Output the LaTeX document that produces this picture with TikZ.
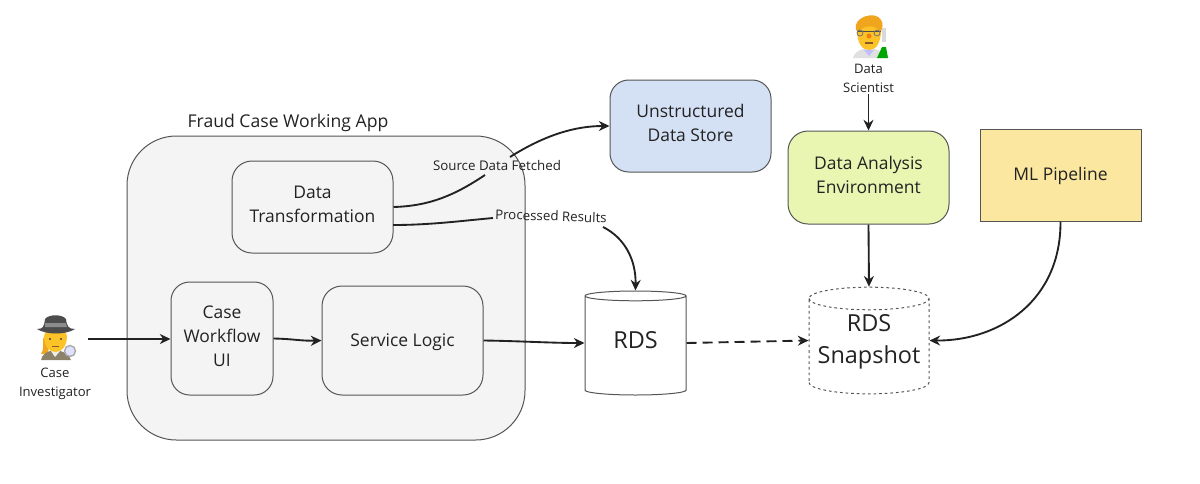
\documentclass[tikz,border=0pt]{standalone}
\usepackage{fontspec}
\setmainfont{Open Sans}
\usetikzlibrary{shapes.geometric,arrows.meta}
\definecolor{inkline}{RGB}{34,34,34}
\definecolor{boxline}{RGB}{85,85,85}
\definecolor{appfill}{RGB}{244,244,244}
\definecolor{storefill}{RGB}{212,225,245}
\definecolor{envfill}{RGB}{232,246,178}
\definecolor{mlfill}{RGB}{251,231,160}
\definecolor{skin}{RGB}{252,195,40}
\definecolor{hairgold}{RGB}{240,165,30}
\definecolor{coat}{RGB}{140,130,105}
\tikzset{
  appbox/.style={draw=boxline,line width=0.75pt,fill=appfill,rounded corners=15pt,align=center,inner sep=0pt,text=inkline,font=\fontsize{13.1}{18}\selectfont},
  twolines/.style={text depth=4pt},
  oneline/.style={text height=11.5pt},
  flowline/.style={draw=inkline,line width=1.4pt,-{Stealth[length=8pt,width=7.5pt]}},
  plainline/.style={draw=inkline,line width=1.4pt},
  edgelabel/.style={inner sep=0pt,text=inkline,font=\fontsize{10}{14}\selectfont},
  actorlabel/.style={align=center,inner sep=0pt,text=inkline,font=\fontsize{9.8}{14.2}\selectfont},
  storedb/.style={cylinder,anchor=shape center,shape border rotate=90,aspect=0.22,align=center,inner sep=0pt,text=inkline,font=\fontsize{17.6}{24}\selectfont,line width=0.75pt}
}
\begin{document}
\begin{tikzpicture}[x=0.75pt,y=0.75pt,yscale=-1]
\useasboundingbox (0,0) rectangle (1200,483);

% App frame
\node (workingApp) [appbox,rounded corners=37pt,minimum width=298.5pt,minimum height=228pt] at (326,288) {};
\node (appTitle) [inner sep=0pt,text=inkline,font=\fontsize{13.2}{16}\selectfont] at (288,123) {Fraud Case Working App};

% Boxes
\node (dataTransform) [appbox,twolines,minimum width=120.75pt,minimum height=69pt] at (312.5,207) {Data\\Transformation};
\node (caseUi) [appbox,text depth=3pt,rounded corners=14pt,minimum width=76.5pt,minimum height=84.75pt] at (222,338.5) {Case\\Workflow\\UI};
\node (serviceLogic) [appbox,oneline,minimum width=120.75pt,minimum height=81.75pt] at (402.5,340.5) {Service Logic};
\node (unstructuredStore) [appbox,twolines,rounded corners=14pt,fill=storefill,minimum width=120.75pt,minimum height=69pt] at (690.5,126) {Unstructured\\Data Store};
\node (analysisEnv) [appbox,twolines,fill=envfill,minimum width=120.75pt,minimum height=69.75pt] at (868.5,177.5) {Data Analysis\\Environment};
\node (mlPipeline) [appbox,oneline,rounded corners=0pt,fill=mlfill,minimum width=120.75pt,minimum height=69pt] at (1060.5,175) {ML Pipeline};

% Stores
\node (rdsMain) [storedb,draw=boxline,text depth=8.5pt,minimum width=75.75pt,minimum height=78pt] at (635.5,343) {RDS};
\node (rdsSnapshot) [storedb,draw=boxline,dash pattern=on 2pt off 2.2pt,text depth=11.5pt,minimum width=90pt,minimum height=80pt] at (869,340.5) {RDS\\Snapshot};

% Edge labels
\node (srcLabel) [edgelabel] at (497,165) {Source Data Fetched};
\node (resLabel) [edgelabel,rotate=-2] at (551,216) {Processed Results};

% Actors
\node (investigatorLabel) [actorlabel] at (55,383.5) {Case\\Investigator};
\node (scientistLabel) [actorlabel] at (868.5,78) {Data\\Scientist};
\coordinate (investigatorEnd) at (88,339);

% Investigator emoji
\fill [hairgold] (43,338) .. controls (43,345) and (44,350) .. (41,354) -- (48,354) -- (50,338) -- cycle;
\fill [coat] (41,360) .. controls (42,354) and (47,351) .. (55,350) .. controls (63,351) and (68,353) .. (71,360) -- cycle;
\fill [white!85!coat] (51,351) -- (55,357) -- (60,351) -- (55,349) -- cycle;
\fill [skin] (44,336) .. controls (44,327) and (67,327) .. (67,336) .. controls (67,346) and (62,352) .. (55.5,352) .. controls (49,352) and (44,346) .. (44,336) -- cycle;
\fill [black!70] (37,329) .. controls (43,329) and (44,327) .. (45,319) .. controls (49,314) and (62,314) .. (66,319) .. controls (67,327) and (69,329) .. (75,329) .. controls (66,335) and (46,335) .. (37,329) -- cycle;
\fill [black!45] (45,323) -- (66,323) -- (67,327) -- (45,327) -- cycle;
\fill [black!75] (50,339) circle [radius=1.2] (61,339) circle [radius=1.2];
\draw [brown!70!black,line width=0.7pt] (52,346) -- (59,346);
\draw [fill=blue!12,draw=black!35,line width=1pt] (70,351) circle [radius=5.5];

% Scientist emoji
\fill [white!88!black] (853,58) .. controls (854,52) and (860,49) .. (869,48) .. controls (878,49) and (884,52) .. (885,58) -- cycle;
\fill [blue!25] (864,50) -- (869,56) -- (874,50) -- cycle;
\fill [skin] (857,30) .. controls (857,20) and (881,20) .. (881,30) .. controls (881,43) and (876,50) .. (869,50) .. controls (862,50) and (857,43) .. (857,30) -- cycle;
\fill [hairgold] (856,30) .. controls (852,17) and (876,10) .. (881,20) .. controls (884,24) and (882,28) .. (881,32) .. controls (876,25) and (864,24) .. (858,32) -- cycle;
\draw [black!70,line width=0.7pt] (857,31) -- (881,31);
\draw [black!55,line width=0.6pt] (860,33) circle [radius=3] (877,33) circle [radius=3];
\fill [orange!75!brown] (869,36) circle [radius=2.5];
\draw [brown!70!black,line width=0.8pt] (865,43) -- (873,43);
\fill [white!85!black] (882,28) -- (886,28) -- (886,42) -- (882,42) -- cycle;
\fill [green!65!black] (877,58) -- (888,58) -- (886,47) -- (882,47) -- cycle;

% Connectors
\draw [flowline] (investigatorEnd) -- (caseUi.west |- investigatorEnd);
\draw [flowline] (caseUi.east) .. controls (295,339) and (300,341) .. (serviceLogic.west);
\draw [flowline] (serviceLogic.east) .. controls (520,341) and (550,343) .. (rdsMain.west |- rdsMain.shape center);
\draw [flowline,dashed,dash pattern=on 7.5pt off 4.5pt] (rdsMain.east |- rdsMain.shape center) -- (rdsSnapshot.west |- rdsSnapshot.shape center);
\draw [flowline] (analysisEnv.south) -- (rdsSnapshot.north);
\draw [flowline] (scientistLabel.south -| analysisEnv.north) ++(0,2) -- (analysisEnv.north);
\draw [flowline] (mlPipeline.south) .. controls (1061,300) and (1000,341) .. (rdsSnapshot.east |- rdsSnapshot.shape center);

\coordinate (srcGapLow) at (485,175);
\coordinate (srcGapHigh) at (510,157);
\coordinate (resStart) at (393,225);
\coordinate (resGapLow) at (493,218);
\coordinate (resGapHigh) at (603,227);
\draw [plainline] (dataTransform.east) .. controls (430,206) and (455,195) .. (srcGapLow);
\draw [flowline] (srcGapHigh) .. controls (545,135) and (575,126) .. (unstructuredStore.west);
\draw [plainline] (resStart) .. controls (430,225) and (460,221) .. (resGapLow);
\draw [flowline] (resGapHigh) .. controls (625,238) and (636,260) .. (rdsMain.north);

\end{tikzpicture}
\end{document}
